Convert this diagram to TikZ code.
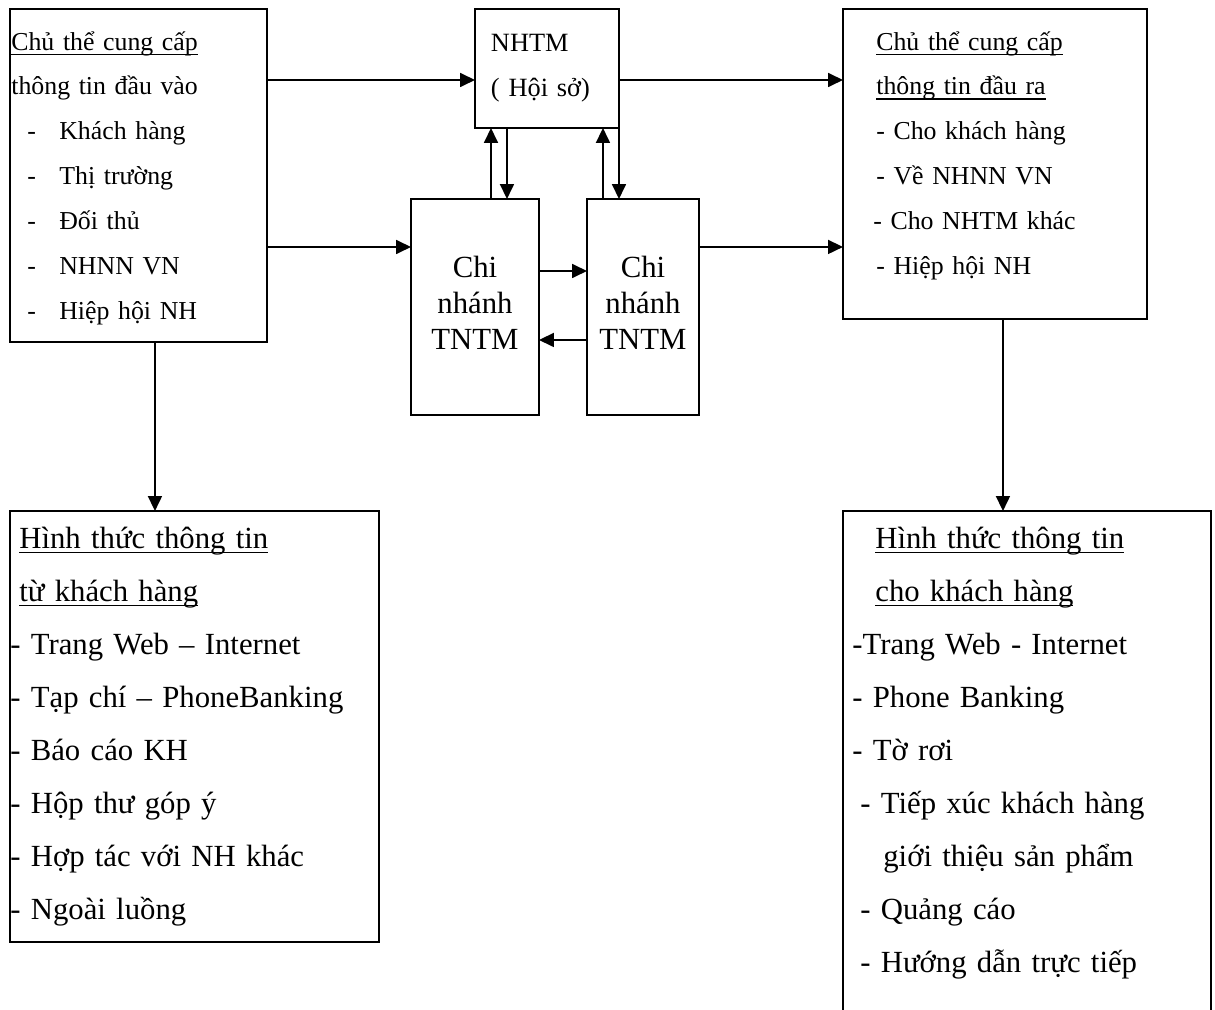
\documentclass[tikz,border=0pt]{standalone}
\usepackage{fontspec}
\setmainfont{Liberation Serif}
\usetikzlibrary{arrows.meta}
\newcommand{\undl}[1]{\leavevmode\setbox0=\hbox{#1}\rlap{\rule[-3pt]{\wd0}{1pt}}\box0}
\newcommand{\ditem}[1]{\hspace*{0.32cm}\makebox[0.64cm][l]{-}#1}
\begin{document}
\begin{tikzpicture}[x=0.02cm,y=-0.02cm]
  \tikzset{
    box/.style={draw,line width=1pt,anchor=north west,inner sep=0pt,outer sep=0pt},
    sm/.style={font=\fontsize{14.7pt}{25.6pt}\selectfont},
    bg/.style={font=\fontsize{17.5pt}{30.2pt}\selectfont},
    br/.style={box,minimum height=4.32cm,align=center,text depth=4.5pt,
               font=\fontsize{17.5pt}{20.5pt}\selectfont},
    txt/.style={anchor=base west,inner sep=0pt,align=left,text width=7.2cm},
    ar/.style={-{Triangle[length=0.3cm,width=0.28cm]},line width=1pt}
  }
  \useasboundingbox (0,0) rectangle (1215,1009);

  \node[box,minimum width=5.14cm,minimum height=6.66cm] (inbox) at (10,9) {};
  \node[box,font=\fontsize{15pt}{25.5pt}\selectfont,minimum width=2.88cm,minimum height=2.38cm,
        text width=2.24cm,inner xsep=0.32cm,align=left] (hq) at (475,9) {NHTM\\( Hội sở)};
  \node[box,minimum width=6.08cm,minimum height=6.2cm] (outbox) at (843,9) {};
  \node[br,minimum width=2.56cm] (brA) at (411,199) {Chi\\nhánh\\TNTM};
  \node[br,minimum width=2.24cm] (brB) at (587,199) {Chi\\nhánh\\TNTM};
  \node[box,minimum width=7.38cm,minimum height=8.62cm] (formin) at (10,511) {};
  \node[box,minimum width=7.36cm,minimum height=10.4cm] (formout) at (843,511) {};

  \node[txt,sm] (intext) at (11,50) {\undl{Chủ thể cung cấp}\\thông tin đầu vào\\
    \ditem{Khách hàng}\\\ditem{Thị trường}\\\ditem{Đối thủ}\\\ditem{NHNN VN}\\
    \ditem{Hiệp hội NH}};
  \node[txt,sm] (outtext) at (876,50) {\undl{Chủ thể cung cấp}\\\undl{thông tin đầu ra}\\
    - Cho khách hàng\\- Về NHNN VN\\\hspace*{-0.06cm}- Cho NHTM khác\\- Hiệp hội NH};
  \node[txt,bg] (formintext) at (10,548) {\hspace*{0.18cm}\undl{Hình thức thông tin}\\
    \hspace*{0.18cm}\undl{từ khách hàng}\\- Trang Web – Internet\\- Tạp chí – PhoneBanking\\
    - Báo cáo KH\\- Hộp thư góp ý\\- Hợp tác với NH khác\\- Ngoài luồng};
  \node[txt,bg] (formouttext) at (852,548) {\hspace*{0.46cm}\undl{Hình thức thông tin}\\
    \hspace*{0.46cm}\undl{cho khách hàng}\\-Trang Web - Internet\\- Phone Banking\\- Tờ rơi\\
    \hspace*{0.16cm}- Tiếp xúc khách hàng\\\hspace*{0.62cm}giới thiệu sản phẩm\\
    \hspace*{0.16cm}- Quảng cáo\\\hspace*{0.16cm}- Hướng dẫn trực tiếp};

  \draw[ar] ([yshift=-1.42cm]inbox.north east) -- ([yshift=-1.42cm]hq.north west);
  \draw[ar] ([yshift=-1.42cm]hq.north east) -- ([yshift=-1.42cm]outbox.north west);
  \draw[ar] ([yshift=-4.76cm]inbox.north east) -- ([yshift=-0.96cm]brA.north west);
  \draw[ar] ([yshift=-0.96cm]brB.north east) -- ([yshift=-4.76cm]outbox.north west);
  \draw[ar] ([yshift=-1.44cm]brA.north east) -- ([yshift=-1.44cm]brB.north west);
  \draw[ar] ([yshift=-2.82cm]brB.north west) -- ([yshift=-2.82cm]brA.north east);
  \draw[ar] ([xshift=1.6cm]brA.north west) -- ([xshift=0.32cm]hq.south west);
  \draw[ar] ([xshift=0.64cm]hq.south west) -- ([xshift=1.92cm]brA.north west);
  \draw[ar] ([xshift=0.32cm]brB.north west) -- ([xshift=2.56cm]hq.south west);
  \draw[ar] (hq.south east) -- ([xshift=0.64cm]brB.north west);
  \draw[ar] ([xshift=2.9cm]inbox.south west) -- ([xshift=2.9cm]formin.north west);
  \draw[ar] ([xshift=3.2cm]outbox.south west) -- ([xshift=3.2cm]formout.north west);
\end{tikzpicture}
\end{document}
